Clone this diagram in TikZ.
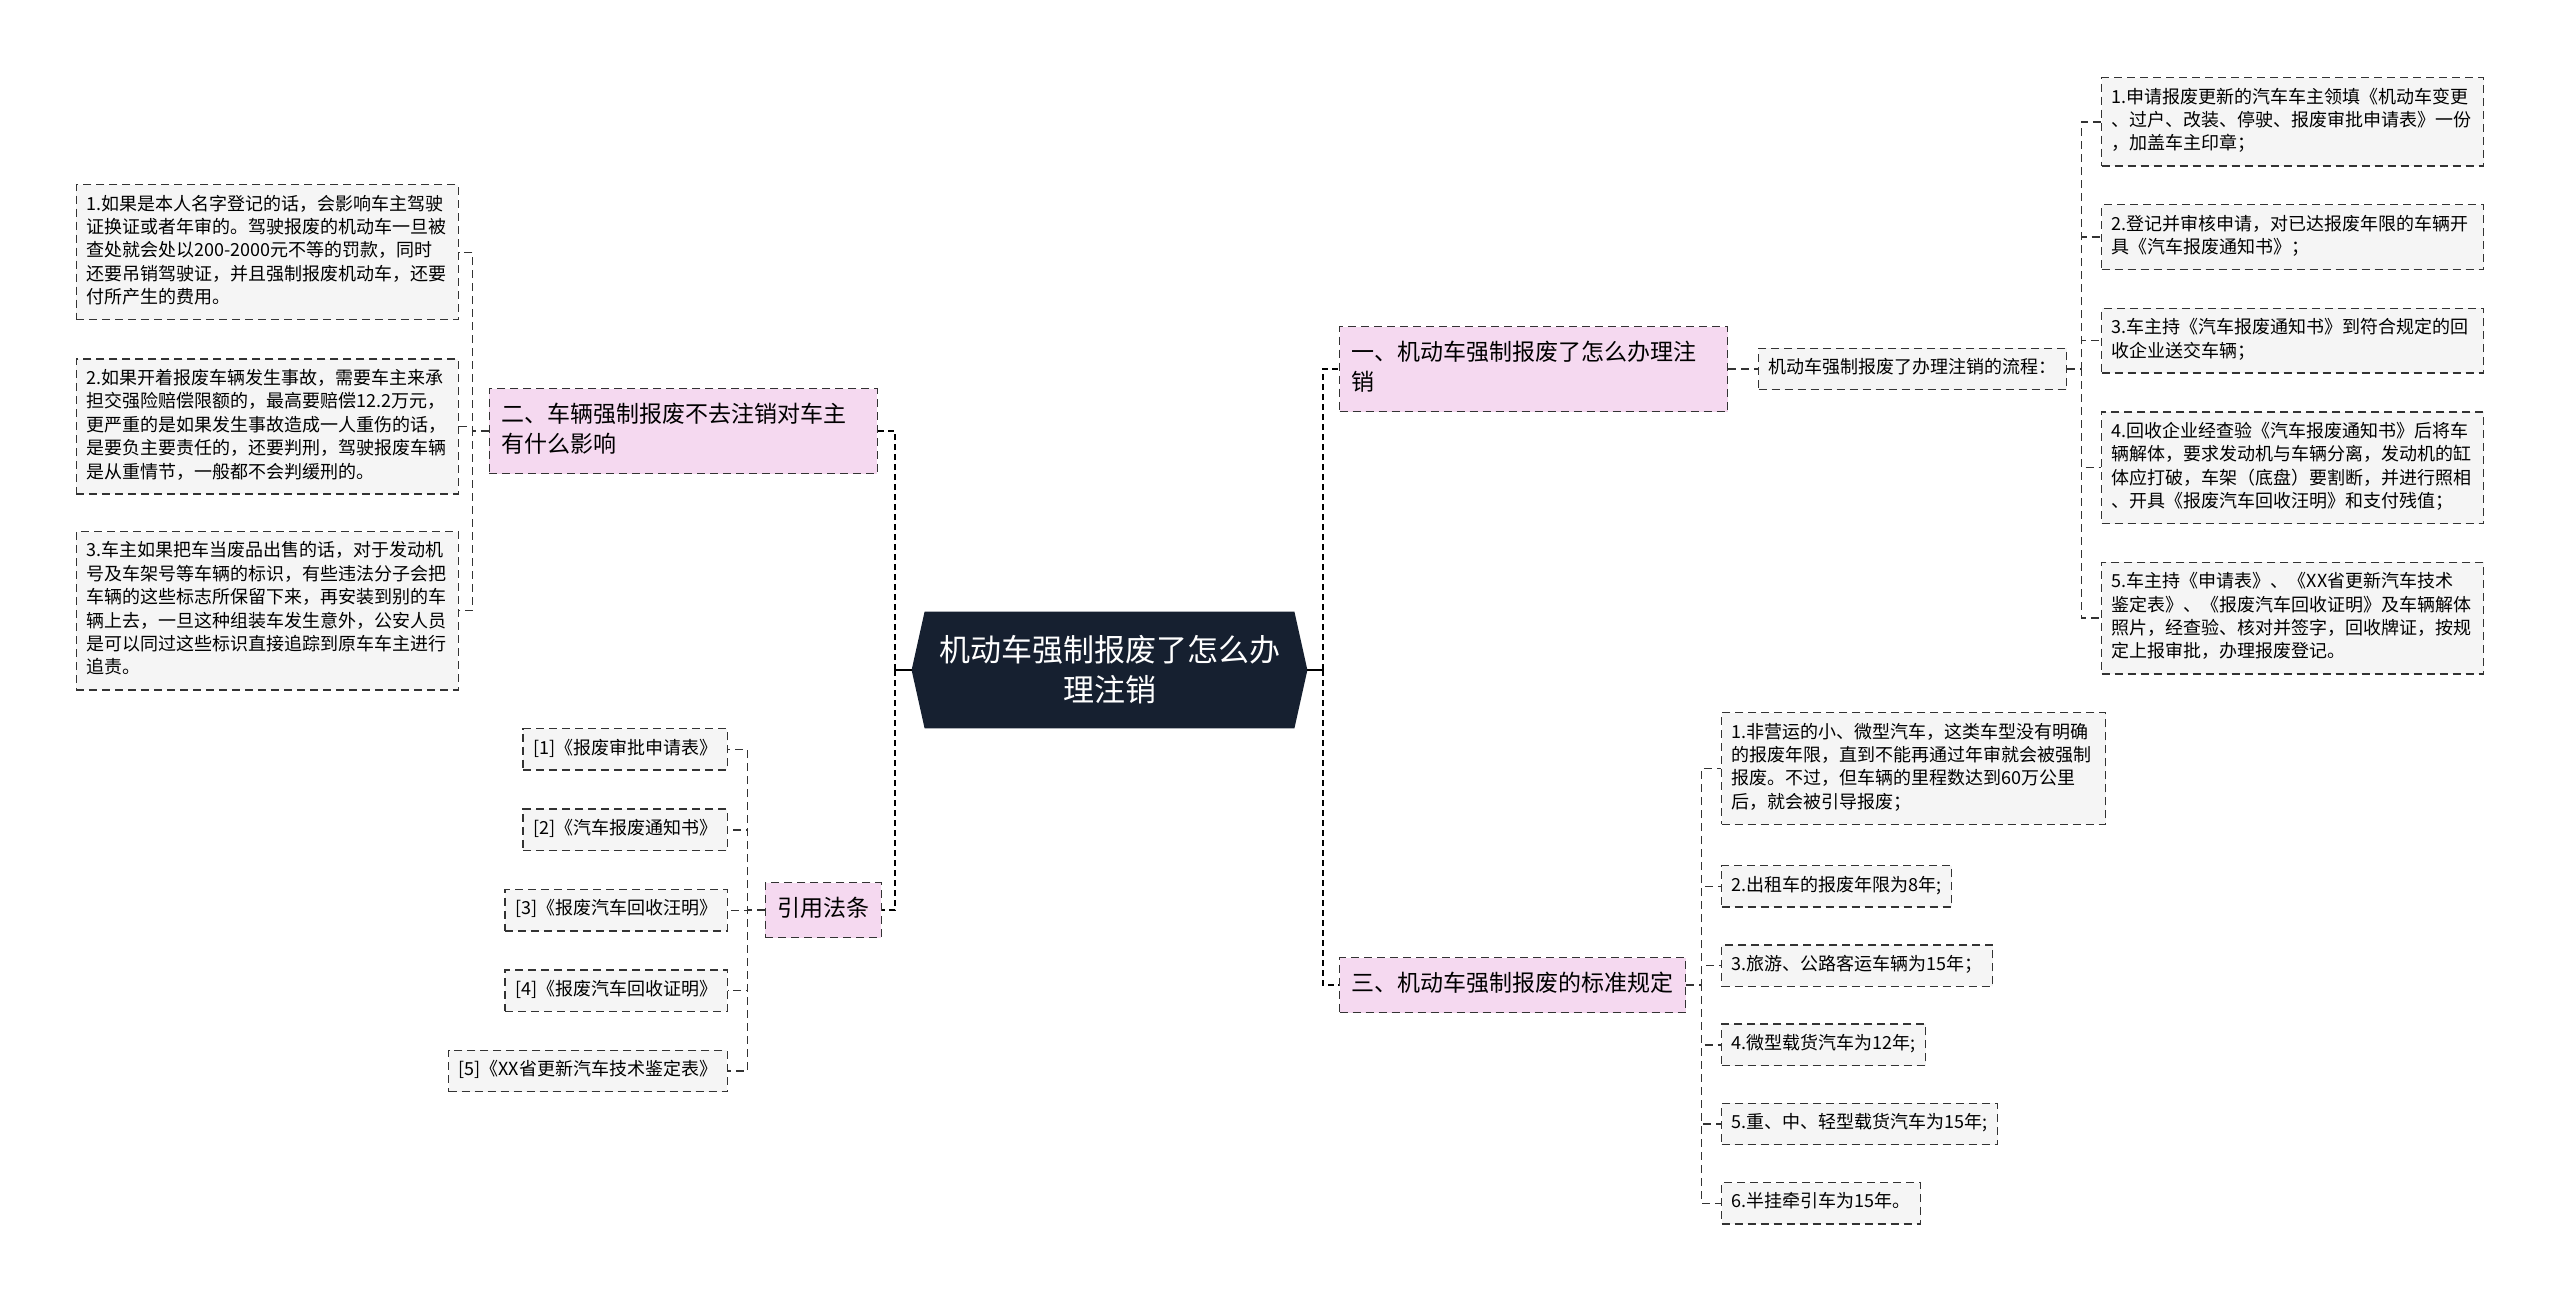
\documentclass[tikz,border=0pt]{standalone}
\usepackage{fontspec}
\setmainfont{Noto Sans CJK SC}
\usepackage{tikz}
\usetikzlibrary{positioning, backgrounds}
\definecolor{RootNavy}{RGB}{22,32,48}
\definecolor{TopicPink}{RGB}{245,217,240}
\definecolor{ItemGrey}{RGB}{245,245,245}
\definecolor{EdgeGrey}{RGB}{51,51,51}

\begin{document}
\begin{tikzpicture}[
  x=0.5pt, y=-0.5pt,
  font=\fontsize{9}{11.7}\selectfont,
  itembox/.style={draw=EdgeGrey, line width=0.7pt, dash pattern=on 4pt off 2.5pt, fill=ItemGrey, align=left, inner xsep=5pt, inner ysep=4.5pt, execute at begin node=\strut, execute at end node=\strut},
  widebox/.style={itembox, text width=181pt},
  topicbox/.style={itembox, fill=TopicPink, font=\fontsize{11.5}{15}\selectfont, inner xsep=6pt, inner ysep=6.25pt},
  rootbox/.style={text=white, font=\fontsize{15.5}{20}\selectfont, align=center, minimum width=184.5pt, minimum height=58pt},
  trunk/.style={draw=black, line width=1pt, dash pattern=on 3pt off 2pt},
  twig/.style={draw=EdgeGrey, line width=0.7pt, dash pattern=on 4pt off 2.5pt},
  stem/.style={draw=black, line width=1pt}
]
\useasboundingbox (0,0) rectangle (2560,1303);

\node[rootbox] (root) at (1109.5,670) {机动车强制报废了怎么办\\理注销};
\coordinate (rootL) at ([xshift=-6.5pt]root.west);
\coordinate (rootR) at ([xshift=6.5pt]root.east);
\begin{scope}[on background layer]
\fill[RootNavy] (root.north west) -- (root.north east) -- (rootR) -- (root.south east) -- (root.south west) -- (rootL) -- cycle;
\end{scope}

\node[topicbox, text width=182pt, anchor=east] (effectTopic) at (878,431) {二、车辆强制报废不去注销对车主\\有什么影响};
\node[topicbox, anchor=east] (citeTopic) at (882,910) {引用法条};
\node[topicbox, text width=182pt, anchor=west] (flowTopic) at (1339,369) {一、机动车强制报废了怎么办理注\\销};
\node[topicbox, anchor=west] (ruleTopic) at (1339,985) {三、机动车强制报废的标准规定};
\node[itembox, anchor=west] (flowHead) at (1758,369) {机动车强制报废了办理注销的流程：};

\node[widebox, anchor=north east] (effect1) at (459,184) {1.如果是本人名字登记的话，会影响车主驾驶\\证换证或者年审的。驾驶报废的机动车一旦被\\查处就会处以200-2000元不等的罚款，同时\\还要吊销驾驶证，并且强制报废机动车，还要\\付所产生的费用。};
\node[widebox, below=19pt of effect1.south east, anchor=north east] (effect2) {2.如果开着报废车辆发生事故，需要车主来承\\担交强险赔偿限额的，最高要赔偿12.2万元，\\更严重的是如果发生事故造成一人重伤的话，\\是要负主要责任的，还要判刑，驾驶报废车辆\\是从重情节，一般都不会判缓刑的。};
\node[widebox, below=18pt of effect2.south east, anchor=north east] (effect3) {3.车主如果把车当废品出售的话，对于发动机\\号及车架号等车辆的标识，有些违法分子会把\\车辆的这些标志所保留下来，再安装到别的车\\辆上去，一旦这种组装车发生意外，公安人员\\是可以同过这些标识直接追踪到原车车主进行\\追责。};

\node[itembox, anchor=north east] (ref1) at (728,728) {[1]《报废审批申请表》};
\node[itembox, below=18.8pt of ref1.south east, anchor=north east] (ref2) {[2]《汽车报废通知书》};
\node[itembox, below=18.8pt of ref2.south east, anchor=north east] (ref3) {[3]《报废汽车回收汪明》};
\node[itembox, below=18.8pt of ref3.south east, anchor=north east] (ref4) {[4]《报废汽车回收证明》};
\node[itembox, below=18.8pt of ref4.south east, anchor=north east] (ref5) {[5]《XX省更新汽车技术鉴定表》};

\node[widebox, anchor=north west] (flow1) at (2101,77) {1.申请报废更新的汽车车主领填《机动车变更\\、过户、改装、停驶、报废审批申请表》一份\\，加盖车主印章；};
\node[widebox, below=18.7pt of flow1.south west, anchor=north west] (flow2) {2.登记并审核申请，对已达报废年限的车辆开\\具《汽车报废通知书》；};
\node[widebox, below=18.7pt of flow2.south west, anchor=north west] (flow3) {3.车主持《汽车报废通知书》到符合规定的回\\收企业送交车辆；};
\node[widebox, below=18.7pt of flow3.south west, anchor=north west] (flow4) {4.回收企业经查验《汽车报废通知书》后将车\\辆解体，要求发动机与车辆分离，发动机的缸\\体应打破，车架（底盘）要割断，并进行照相\\、开具《报废汽车回收汪明》和支付残值；};
\node[widebox, below=18.7pt of flow4.south west, anchor=north west] (flow5) {5.车主持《申请表》、《XX省更新汽车技术\\鉴定表》、《报废汽车回收证明》及车辆解体\\照片，经查验、核对并签字，回收牌证，按规\\定上报审批，办理报废登记。};

\node[widebox, text width=182pt, anchor=north west] (rule1) at (1721,712) {1.非营运的小、微型汽车，这类车型没有明确\\的报废年限，直到不能再通过年审就会被强制\\报废。不过，但车辆的里程数达到60万公里\\后，就会被引导报废；};
\node[itembox, below=20pt of rule1.south west, anchor=north west] (rule2) {2.出租车的报废年限为8年;};
\node[itembox, below=18.2pt of rule2.south west, anchor=north west] (rule3) {3.旅游、公路客运车辆为15年；};
\node[itembox, below=18.2pt of rule3.south west, anchor=north west] (rule4) {4.微型载货汽车为12年;};
\node[itembox, below=18.2pt of rule4.south west, anchor=north west] (rule5) {5.重、中、轻型载货汽车为15年;};
\node[itembox, below=18.2pt of rule5.south west, anchor=north west] (rule6) {6.半挂牵引车为15年。};

\draw[stem] (rootL) -- ++(-17,0) coordinate (leftHub);
\draw[stem] (rootR) -- ++(16,0) coordinate (rightHub);
\draw[trunk] (leftHub) |- (effectTopic.east);
\draw[trunk] (leftHub) |- (citeTopic.east);
\draw[trunk] (rightHub) |- (flowTopic.west);
\draw[trunk] (rightHub) |- (ruleTopic.west);

\draw[twig] (flowTopic.east) -- (flowHead.west);
\draw[twig] (flowHead.east) -- ++(14,0) |- (flow1.west);
\draw[twig] (flowHead.east) -- ++(14,0) |- (flow2.west);
\draw[twig] (flowHead.east) -- ++(14,0) |- (flow3.west);
\draw[twig] (flowHead.east) -- ++(14,0) |- (flow4.west);
\draw[twig] (flowHead.east) -- ++(14,0) |- (flow5.west);

\draw[twig] (effectTopic.west) -- ++(-16,0) |- (effect1.east);
\draw[twig] (effectTopic.west) -- ++(-16,0) |- (effect2.east);
\draw[twig] (effectTopic.west) -- ++(-16,0) |- (effect3.east);

\draw[twig] (citeTopic.west) -- ++(-17,0) |- (ref1.east);
\draw[twig] (citeTopic.west) -- ++(-17,0) |- (ref2.east);
\draw[twig] (citeTopic.west) -- ++(-17,0) |- (ref3.east);
\draw[twig] (citeTopic.west) -- ++(-17,0) |- (ref4.east);
\draw[twig] (citeTopic.west) -- ++(-17,0) |- (ref5.east);

\draw[twig] (ruleTopic.east) -- ++(15,0) |- (rule1.west);
\draw[twig] (ruleTopic.east) -- ++(15,0) |- (rule2.west);
\draw[twig] (ruleTopic.east) -- ++(15,0) |- (rule3.west);
\draw[twig] (ruleTopic.east) -- ++(15,0) |- (rule4.west);
\draw[twig] (ruleTopic.east) -- ++(15,0) |- (rule5.west);
\draw[twig] (ruleTopic.east) -- ++(15,0) |- (rule6.west);
\end{tikzpicture}
\end{document}
